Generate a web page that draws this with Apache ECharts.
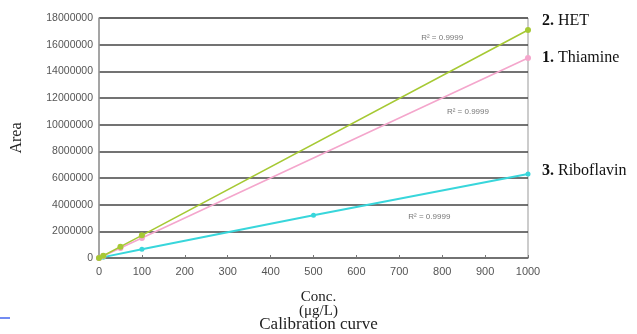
<!DOCTYPE html>
<html><head><meta charset="utf-8">
<script src="https://cdn.jsdelivr.net/npm/echarts@6/dist/echarts.min.js"></script>
<style>html,body{margin:0;padding:0;background:#fff}#c{width:637px;height:334px}</style>
</head><body><div id="c"></div>
<script>
const seriesNums = ['2.', '1.', '3.'];
const seriesNames = ['HET', 'Thiamine', 'Riboflavin'];
const hetData = [[0, 0], [10, 170000], [50, 850000], [100, 1700000], [1000, 17100000]];
const thiamineData = [[0, 0], [10, 150000], [50, 750000], [100, 1500000], [1000, 15000000]];
const riboflavinData = [[0, 0], [10, 65000], [100, 650000], [500, 3200000], [1000, 6300000]];
const xTicks = [0, 100, 200, 300, 400, 500, 600, 700, 800, 900, 1000];
const yTicks = [0, 2000000, 4000000, 6000000, 8000000, 10000000, 12000000, 14000000, 16000000, 18000000];
const r2Labels = ['R² = 0.9999', 'R² = 0.9999', 'R² = 0.9999'];
const r2Pos = [[800, 16500000], [860, 11000000], [770, 3100000]];

const colors = ['#a6c934', '#f4a6cc', '#38d6db'];
const chart = echarts.init(document.getElementById('c'), null, {renderer: 'canvas'});
const datasets = [hetData, thiamineData, riboflavinData];
const labelOffsets = [[6, -9], [6, 0], [6, -3]];

chart.setOption({
  animation: false,
  title: {
    text: 'Calibration curve', left: 'center', top: 311,
    textStyle: {color: '#222', fontSize: 17, fontWeight: 'normal', fontFamily: 'Liberation Serif'}
  },
  graphic: [
    {type: 'line', shape: {x1: 0, y1: 318, x2: 10, y2: 318}, style: {stroke: '#4466ee', lineWidth: 1.5}},
    {type: 'text', left: 'center', top: 290, style: {text: 'Conc.', fill: '#222', fontSize: 15, fontFamily: 'Liberation Serif'}},
    {type: 'text', left: 'center', top: 304, style: {text: '(μg/L)', fill: '#222', fontSize: 15, fontFamily: 'Liberation Serif'}}
  ],
  grid: {left: 99, right: 109, top: 18, bottom: 76, show: true, borderColor: '#999', borderWidth: 1},
  xAxis: {
    type: 'value', min: 0, max: 1000, interval: 100,
    axisLine: {show: true, lineStyle: {color: '#777', width: 1.5}},
    axisTick: {show: true, inside: true, length: 3, lineStyle: {color: '#777'}},
    splitLine: {show: false},
    axisLabel: {color: '#555', fontSize: 11, fontFamily: 'Liberation Sans', margin: 8,
      formatter: v => String(v)}
  },
  yAxis: {
    type: 'value', min: 0, max: 18000000, interval: 2000000,
    axisLine: {show: true, lineStyle: {color: '#999', width: 1.5}},
    axisTick: {show: false},
    splitLine: {show: true, lineStyle: {color: '#444', width: 1.5}},
    axisLabel: {color: '#555', fontSize: 10.5, fontFamily: 'Liberation Sans', margin: 6,
      formatter: v => String(v)},
    name: 'Area', nameLocation: 'middle', nameGap: 74, nameRotate: 90,
    nameTextStyle: {color: '#222', fontSize: 16, fontFamily: 'Liberation Serif'}
  },
  series: datasets.map((d, i) => ({
    name: seriesNums[i] + ' ' + seriesNames[i], type: 'line', data: d,
    symbol: 'circle', symbolSize: i === 2 ? 5 : 6,
    lineStyle: {color: colors[i], width: i === 2 ? 2 : 1.6},
    itemStyle: {color: colors[i]},
    z: 3 - i,
    endLabel: {
      show: true, formatter: '{b|' + seriesNums[i] + '} ' + seriesNames[i],
      color: '#111', fontSize: 16, fontFamily: 'Liberation Serif',
      offset: labelOffsets[i],
      rich: {b: {fontWeight: 'bold', fontSize: 16, fontFamily: 'Liberation Serif', color: '#111'}}
    },
    markPoint: {
      symbol: 'rect', symbolSize: 1,
      itemStyle: {color: 'rgba(0,0,0,0)'},
      label: {show: true, formatter: r2Labels[i], color: '#777', fontSize: 8, fontFamily: 'Liberation Sans', position: 'inside'},
      data: [{coord: r2Pos[i]}]
    }
  }))
});
</script></body></html>
